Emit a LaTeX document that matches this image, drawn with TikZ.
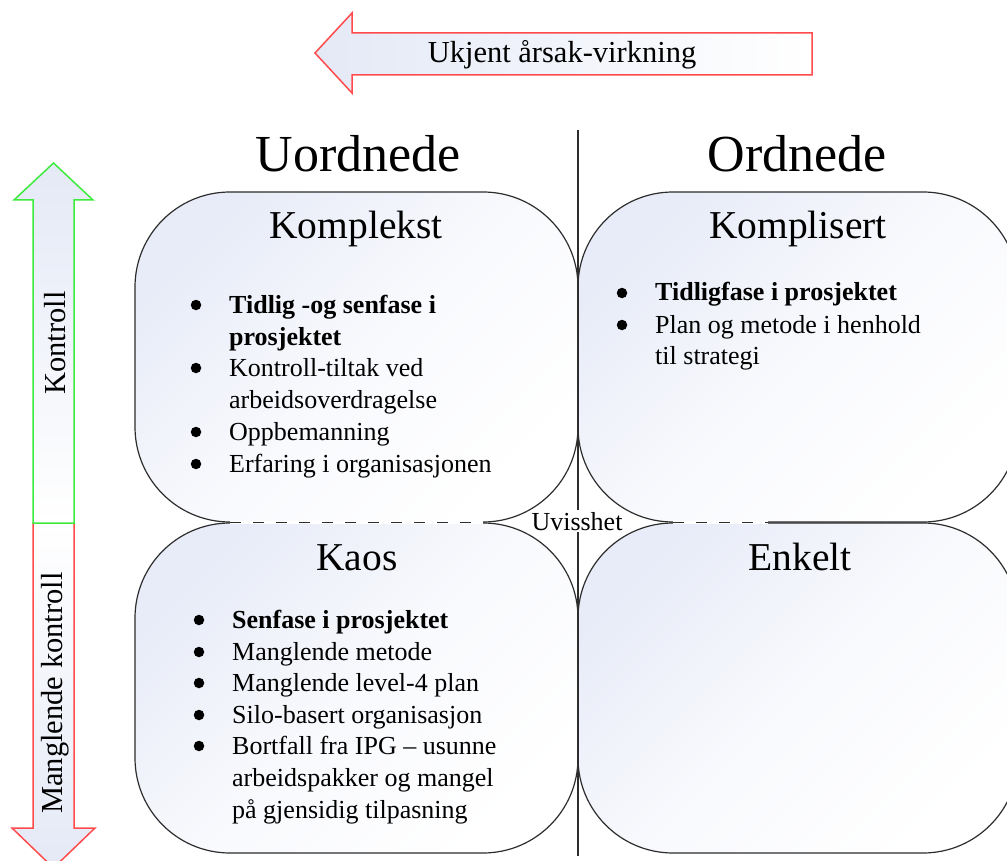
\documentclass[tikz,border=0pt]{standalone}
\usepackage{fontspec}
\setmainfont{Liberation Serif}
\definecolor{shadeblue}{RGB}{228,233,246}
\definecolor{quadblue}{RGB}{232,236,248}
\definecolor{boxline}{RGB}{45,45,45}
\definecolor{arrowred}{RGB}{255,75,75}
\definecolor{arrowgreen}{RGB}{60,235,60}
\tikzset{
  quadfill/.style={rounded corners=95, top color=quadblue, bottom color=white,
    middle color=quadblue!30!white, shading angle=45},
  quadline/.style={draw=boxline, line width=1.2, rounded corners=95},
  colhead/.style={font=\fontsize{52}{60}\selectfont, anchor=base, inner sep=0},
  quadtitle/.style={font=\fontsize{39.5}{46}\selectfont, anchor=base, inner sep=0},
  itemtext/.style={font=\fontsize{26}{32}\selectfont, anchor=base west, inner sep=0},
  bul/.style={circle, fill=black, inner sep=0, minimum size=10.5},
  arrowtext/.style={font=\fontsize{30.5}{36}\selectfont, anchor=base, inner sep=0},
  sep/.style={draw=boxline, line width=1.2},
  tangent/.style={draw=boxline, line width=1.2, dash pattern=on 11 off 12},
}
\begin{document}
\begin{tikzpicture}[x=1pt,y=-1pt]
\useasboundingbox (0,0) rectangle (1007,861);
\clip (0,0) rectangle (1007,861);

% direction arrows
\path[draw=arrowred, line width=1.5, left color=shadeblue, right color=white]
  (315,53) -- (352,13) -- (352,33) -- (812,33) -- (812,75) -- (352,75) -- (352,93) -- cycle;
\node[arrowtext] (cause) at (562,63) {Ukjent årsak-virkning};

\path[draw=arrowred, line width=1.5, top color=white, bottom color=shadeblue]
  (33,523) -- (74,523) -- (74,828) -- (95,828) -- (53.5,868) -- (12,828) -- (33,828) -- cycle;
\path[draw=arrowgreen, line width=1.5, top color=shadeblue, bottom color=white]
  (53.5,163) -- (93,200) -- (74,200) -- (74,523) -- (33,523) -- (33,200) -- (14,200) -- cycle;
\node[arrowtext, anchor=center, rotate=90] (ctrl) at (55,343) {Kontroll};
\node[arrowtext, anchor=center, rotate=90] (noctrl) at (55,693) {Manglende kontroll};

% column headings
\node[colhead] (uord) at (358,172) {Uordnede};
\node[colhead] (ord) at (797,172) {Ordnede};

% quadrant fills
\path[quadfill] (135,192) rectangle (578,522);
\path[quadfill] (578,192) rectangle (1018,522);
\path[quadfill] (135,523) rectangle (578,853);
\path[quadfill] (578,523) rectangle (1018,853);

% divider and centre label
\coordinate (divtop) at (578,130);
\coordinate (divbot) at (578,856);
\draw[sep] (divtop) -- (divbot);
\node[font=\fontsize{26}{32}\selectfont, anchor=base, fill=white, inner sep=1.5] (unc) at (577,530) {Uvisshet};

% quadrant outlines
\path[quadline] (135,192) rectangle (578,522);
\path[quadline] (578,192) rectangle (1018,522);
\path[quadline] (135,523) rectangle (578,853);
\path[quadline] (578,523) rectangle (1018,853);

% dashed boundary between upper and lower quadrants
\coordinate (da) at (230,522.5);
\coordinate (db) at (483,522.5);
\coordinate (dc) at (673,522.5);
\coordinate (dd) at (768,522.5);
\draw[white, line width=3] (da) -- (db) (dc) -- (dd);
\draw[tangent] (da) -- (db);
\draw[tangent] (dc) -- (dd);

% quadrant titles
\node[quadtitle] (komplekst) at (356,239) {Komplekst};
\node[quadtitle] (komplisert) at (798,239) {Komplisert};
\node[quadtitle] (kaos) at (357,570) {Kaos};
\node[quadtitle] (enkelt) at (800,570) {Enkelt};

% Komplekst items
\node[bul] (kb1) at (196,305) {};
\node[itemtext] (kt1) at (229,313) {\textbf{Tidlig -og senfase i}};
\node[itemtext] (kt1b) at (229,345) {\textbf{prosjektet}};
\node[bul] (kb2) at (196,368) {};
\node[itemtext] (kt2) at (229,376) {Kontroll-tiltak ved};
\node[itemtext] (kt2b) at (229,408) {arbeidsoverdragelse};
\node[bul] (kb3) at (196,432) {};
\node[itemtext] (kt3) at (229,440) {Oppbemanning};
\node[bul] (kb4) at (196,464) {};
\node[itemtext] (kt4) at (229,472) {Erfaring i organisasjonen};

% Komplisert items
\node[bul] (pb1) at (622,293) {};
\node[itemtext] (pt1) at (655,301) {\textbf{Tidligfase i prosjektet}};
\node[bul] (pb2) at (622,325) {};
\node[itemtext] (pt2) at (655,333) {Plan og metode i henhold};
\node[itemtext] (pt2b) at (655,364) {til strategi};

% Kaos items
\node[bul] (sb1) at (199,620) {};
\node[itemtext] (st1) at (232,628) {\textbf{Senfase i prosjektet}};
\node[bul] (sb2) at (199,652) {};
\node[itemtext] (st2) at (232,660) {Manglende metode};
\node[bul] (sb3) at (199,683) {};
\node[itemtext] (st3) at (232,691) {Manglende level-4 plan};
\node[bul] (sb4) at (199,715) {};
\node[itemtext] (st4) at (232,723) {Silo-basert organisasjon};
\node[bul] (sb5) at (199,746) {};
\node[itemtext] (st5) at (232,754) {Bortfall fra IPG – usunne};
\node[itemtext] (st5b) at (232,786) {arbeidspakker og mangel};
\node[itemtext] (st5c) at (232,818) {på gjensidig tilpasning};
\end{tikzpicture}
\end{document}
